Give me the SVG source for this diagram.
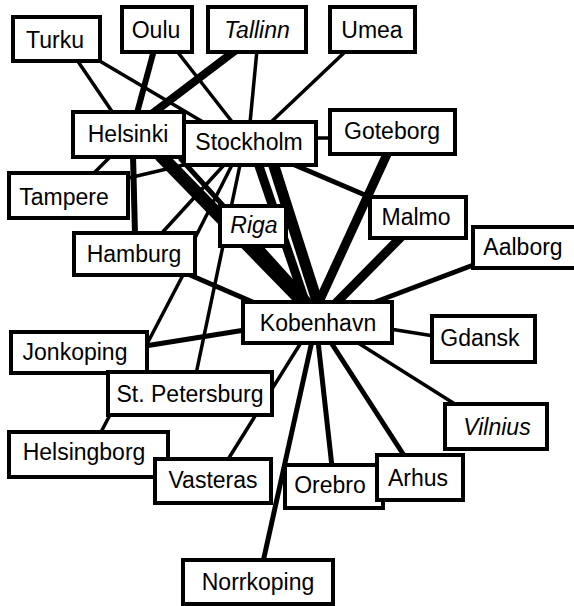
<svg xmlns="http://www.w3.org/2000/svg" width="574" height="606" viewBox="0 0 574 606">
  <style>
    .node rect { fill: #fff; stroke: #000; stroke-width: 4; }
    .node text { font-family: "Liberation Sans", Arial, sans-serif; font-size: 23px; fill: #000; text-anchor: middle; }
    .node text.it { font-style: italic; }
    #edges line { stroke: #000; stroke-linecap: butt; }
    .w3 { stroke-width: 3.5; }
    .w5 { stroke-width: 5; }
    .w6 { stroke-width: 6; }
    .w8 { stroke-width: 8; }
    .w9 { stroke-width: 9; }
    .w11 { stroke-width: 11; }
    .w13 { stroke-width: 13; }
  </style>
  <rect width="574" height="606" fill="#fff"/>

  <!-- connectors: stroke width shows the weight of each link -->
  <g id="edges">
    <line class="w3" x1="77" y1="60" x2="113" y2="113"/>
    <line class="w3" x1="98" y1="60" x2="203" y2="122"/>
    <line class="w6" x1="154" y1="50" x2="137" y2="113"/>
    <line class="w3" x1="176" y1="50" x2="233" y2="123"/>
    <line class="w8" x1="236" y1="50" x2="153" y2="113"/>
    <line class="w3" x1="257" y1="50" x2="250" y2="123"/>
    <line class="w3" x1="347" y1="50" x2="270" y2="123"/>
    <line class="w3" x1="315" y1="138" x2="331" y2="138"/>
    <line class="w9" x1="388" y1="152" x2="318" y2="304"/>
    <line class="w5" x1="290" y1="163" x2="372" y2="198"/>
    <line class="w9" x1="402" y1="236" x2="335" y2="304"/>
    <line class="w5" x1="476" y1="264" x2="370" y2="304"/>
    <line class="w3" x1="390" y1="329" x2="434" y2="336"/>
    <line class="w3" x1="355" y1="341" x2="458" y2="406"/>
    <line class="w5" x1="330" y1="341" x2="405" y2="457"/>
    <line class="w5" x1="318" y1="341" x2="332" y2="467"/>
    <line class="w5" x1="312" y1="341" x2="263" y2="562"/>
    <line class="w3" x1="302" y1="341" x2="227" y2="461"/>
    <line class="w5" x1="245" y1="330" x2="145" y2="346"/>
    <line class="w5" x1="190" y1="275" x2="262" y2="306"/>
    <line class="w3" x1="183" y1="275" x2="100" y2="434"/>
    <line class="w3" x1="240" y1="165" x2="196" y2="374"/>
    <line class="w3" x1="224" y1="165" x2="160" y2="235"/>
    <line class="w3" x1="232" y1="165" x2="195" y2="238"/>
    <line class="w3" x1="192" y1="163" x2="120" y2="180"/>
    <line class="w3" x1="112" y1="155" x2="92" y2="175"/>
    <line class="w6" x1="133" y1="155" x2="135" y2="235"/>
    <line class="w13" x1="160" y1="155" x2="305" y2="304"/>
    <line class="w5" x1="180" y1="158" x2="312" y2="304"/>
    <line class="w11" x1="273" y1="163" x2="318" y2="304"/>
    <line class="w9" x1="258" y1="163" x2="306" y2="304"/>
  </g>

  <!-- city nodes -->
  <g id="turku" class="node"><rect x="13" y="17" width="87" height="44"/><text x="55" y="48">Turku</text></g>
  <g id="oulu" class="node"><rect x="122" y="7" width="70" height="45"/><text x="156" y="38">Oulu</text></g>
  <g id="tallinn" class="node"><rect x="208" y="7" width="98" height="45"/><text class="it" x="257" y="38">Tallinn</text></g>
  <g id="umea" class="node"><rect x="330" y="7" width="85" height="45"/><text x="372" y="38">Umea</text></g>
  <g id="helsinki" class="node"><rect x="73" y="112" width="111" height="45"/><text x="128" y="142">Helsinki</text></g>
  <g id="stockholm" class="node"><rect x="184" y="122" width="132" height="43"/><text x="249" y="150">Stockholm</text></g>
  <g id="goteborg" class="node"><rect x="330" y="110" width="125" height="44"/><text x="392" y="139">Goteborg</text></g>
  <g id="tampere" class="node"><rect x="9" y="173" width="119" height="45"/><text x="64" y="205">Tampere</text></g>
  <g id="hamburg" class="node"><rect x="74" y="233" width="121" height="42"/><text x="134" y="262">Hamburg</text></g>
  <g id="riga" class="node"><rect x="220" y="206" width="66" height="40"/><text class="it" x="254" y="233">Riga</text></g>
  <g id="malmo" class="node"><rect x="370" y="197" width="96" height="41"/><text x="416" y="225">Malmo</text></g>
  <g id="aalborg" class="node"><rect x="473" y="227" width="107" height="41"/><text x="523" y="255">Aalborg</text></g>
  <g id="kobenhavn" class="node"><rect x="243" y="302" width="149" height="41"/><text x="318" y="331">Kobenhavn</text></g>
  <g id="gdansk" class="node"><rect x="432" y="316" width="103" height="46"/><text x="480" y="346">Gdansk</text></g>
  <g id="jonkoping" class="node"><rect x="11" y="332" width="136" height="41"/><text x="75" y="360">Jonkoping</text></g>
  <g id="st-petersburg" class="node"><rect x="108" y="372" width="164" height="43"/><text x="190" y="402">St. Petersburg</text></g>
  <g id="helsingborg" class="node"><rect x="9" y="432" width="159" height="45"/><text x="84" y="460">Helsingborg</text></g>
  <g id="vasteras" class="node"><rect x="155" y="459" width="116" height="44"/><text x="213" y="488">Vasteras</text></g>
  <g id="orebro" class="node"><rect x="285" y="465" width="98" height="43"/><text x="330" y="493">Orebro</text></g>
  <g id="arhus" class="node"><rect x="377" y="455" width="86" height="45"/><text x="418" y="486">Arhus</text></g>
  <g id="vilnius" class="node"><rect x="445" y="404" width="102" height="45"/><text class="it" x="497" y="435">Vilnius</text></g>
  <g id="norrkoping" class="node"><rect x="183" y="560" width="150" height="44"/><text x="258" y="590">Norrkoping</text></g>
</svg>
